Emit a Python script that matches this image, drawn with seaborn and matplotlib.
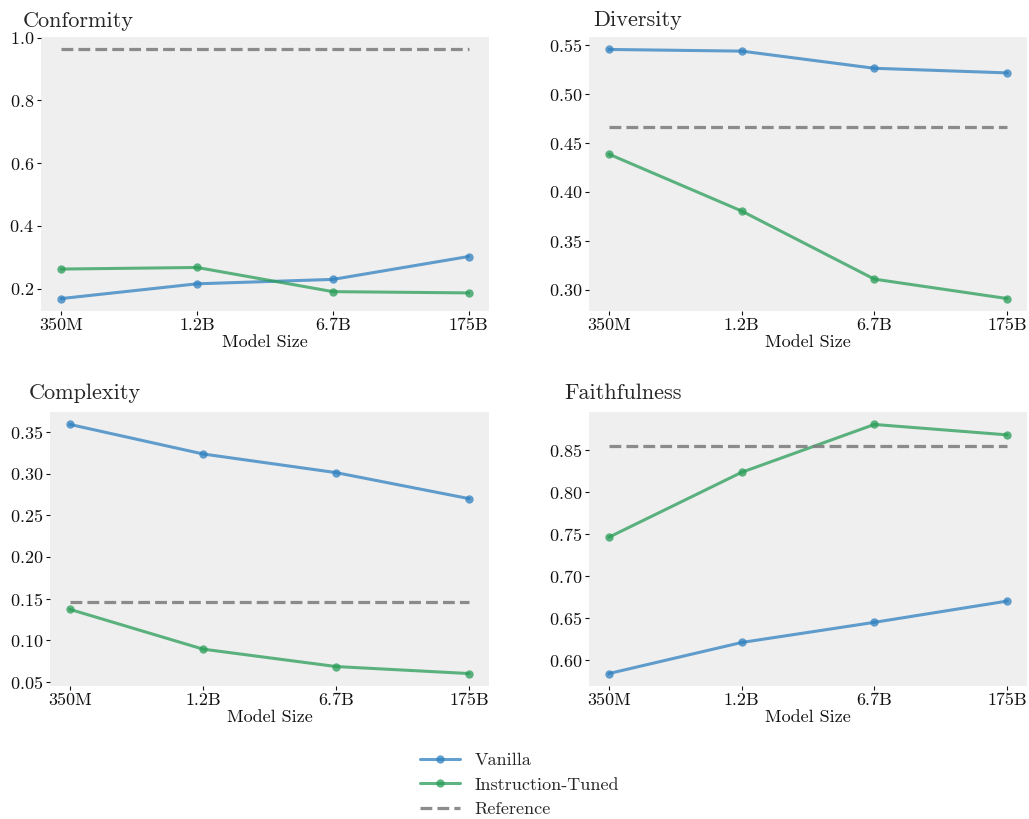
import matplotlib
matplotlib.use("Agg")
import matplotlib.pyplot as plt
import seaborn as sns
import pandas as pd
from matplotlib.lines import Line2D

# Model sizes along the x axis
model_sizes = ["350M", "1.2B", "6.7B", "175B"]

# Metric values per model family
conformity_vanilla = [0.168, 0.215, 0.229, 0.302]
conformity_tuned = [0.262, 0.267, 0.190, 0.186]
conformity_ref = 0.962

diversity_vanilla = [0.5452, 0.5435, 0.5260, 0.5213]
diversity_tuned = [0.4384, 0.3804, 0.3109, 0.2911]
diversity_ref = 0.4661

complexity_vanilla = [0.3589, 0.3235, 0.3011, 0.2699]
complexity_tuned = [0.1370, 0.0893, 0.0684, 0.0600]
complexity_ref = 0.1463

faithfulness_vanilla = [0.584, 0.621, 0.645, 0.6703]
faithfulness_tuned = [0.7464, 0.8237, 0.8807, 0.8683]
faithfulness_ref = 0.8548

metric_names = ["Conformity", "Diversity", "Complexity", "Faithfulness"]
series_labels = ["Vanilla", "Instruction-Tuned", "Reference"]

panels = [
    (conformity_vanilla, conformity_tuned, conformity_ref),
    (diversity_vanilla, diversity_tuned, diversity_ref),
    (complexity_vanilla, complexity_tuned, complexity_ref),
    (faithfulness_vanilla, faithfulness_tuned, faithfulness_ref),
]

sns.set_theme(style="ticks", rc={
    "axes.facecolor": "#efefef",
    "axes.grid": False,
    "xtick.bottom": True,
    "ytick.left": True,
    "xtick.major.size": 3,
    "ytick.major.size": 3,
    "xtick.major.width": 0.8,
    "ytick.major.width": 0.8,
    "xtick.color": "#111111",
    "ytick.color": "#111111",
    "axes.labelcolor": "#111111",
})
plt.rcParams["font.family"] = ["cmr10", "DejaVu Serif"]
plt.rcParams["mathtext.fontset"] = "cm"
plt.rcParams["axes.formatter.use_mathtext"] = True

BLUE = "#2f80c0"
GREEN = "#2a9d58"
GREY = "#808080"
W, H = 1029, 819

fig = plt.figure(figsize=(W / 100, H / 100), dpi=100)

# Axes boxes in pixels: (left, top, right, bottom)
boxes = [(41, 37, 489, 311), (589, 37, 1027, 311),
         (50, 412, 489, 686), (589, 412, 1027, 686)]
title_pos = [(23, 27), (593, 26), (29, 399), (564, 399)]

for name, (van, tun, ref), box, tpos in zip(metric_names, panels, boxes, title_pos):
    l, t, r, b = box
    ax = fig.add_axes([l / W, 1 - b / H, (r - l) / W, (b - t) / H])
    df = pd.DataFrame({"size": model_sizes, "vanilla": van, "tuned": tun,
                       "ref": [ref] * len(model_sizes)})
    sns.lineplot(data=df, x="size", y="vanilla", ax=ax, color=BLUE, lw=2.2,
                 marker="o", markersize=6, markeredgewidth=0, alpha=0.75, sort=False)
    sns.lineplot(data=df, x="size", y="tuned", ax=ax, color=GREEN, lw=2.2,
                 marker="o", markersize=6, markeredgewidth=0, alpha=0.75, sort=False)
    sns.lineplot(data=df, x="size", y="ref", ax=ax, color=GREY, lw=2.3,
                 linestyle="--", alpha=0.9, sort=False)
    for s in ax.spines.values():
        s.set_visible(False)
    ax.set_xlabel("Model Size", fontsize=13, labelpad=1)
    ax.set_ylabel("")
    ax.tick_params(labelsize=13, pad=2)
    fig.text(tpos[0] / W, 1 - tpos[1] / H, name, fontsize=16,
             ha="left", va="baseline")

handles = [
    Line2D([], [], color=BLUE, lw=2.2, marker="o", markersize=6, mew=0, alpha=0.75),
    Line2D([], [], color=GREEN, lw=2.2, marker="o", markersize=6, mew=0, alpha=0.75),
    Line2D([], [], color=GREY, lw=2.3, linestyle="--", alpha=0.9),
]
fig.legend(handles, series_labels, loc="upper center",
           bbox_to_anchor=(0.505, 1 - 736 / H), frameon=False, fontsize=13,
           handlelength=2.2, handletextpad=0.8, labelspacing=0.5)

fig.savefig("out.png", dpi=100)
